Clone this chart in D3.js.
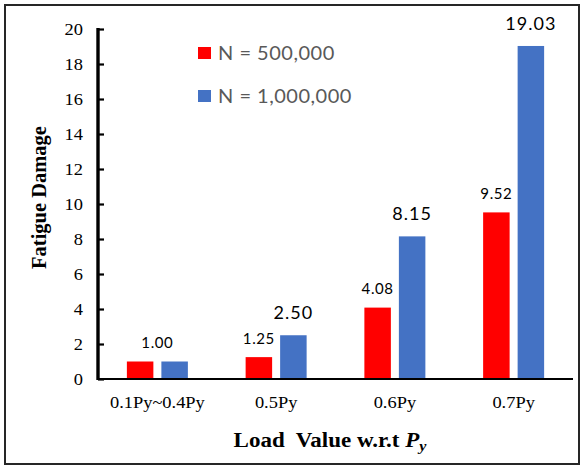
<!DOCTYPE html>
<html>
<head>
<meta charset="utf-8">
<script src="https://cdn.jsdelivr.net/npm/d3@7"></script>
<style>
  html, body { margin: 0; padding: 0; background: #fff; }
  svg { display: block; }
</style>
</head>
<body>
<svg id="chart" width="580" height="466"></svg>
<script>
// Fatigue damage per load level, for two cycle counts
const categories = ["0.1Py~0.4Py", "0.5Py", "0.6Py", "0.7Py"];
const seriesNames = ["N = 500,000", "N = 1,000,000"];
const damage500k = [1.00, 1.25, 4.08, 9.52];
const damage1M = [1.00, 2.50, 8.15, 19.03];
const yTicks = [0, 2, 4, 6, 8, 10, 12, 14, 16, 18, 20];

const colors = ["#FF0000", "#4472C4"];
const series = [damage500k, damage1M];

const svg = d3.select("#chart");
const plot = { left: 98, right: 573, top: 29, bottom: 379 };

// outer frame
svg.append("rect")
  .attr("x", 5).attr("y", 5)
  .attr("width", 574).attr("height", 459)
  .attr("fill", "none").attr("stroke", "#262626").attr("stroke-width", 2);

const x = d3.scaleBand().domain(categories).range([plot.left, plot.right]).padding(0);
const xs = d3.scaleBand().domain(seriesNames).range([0, x.bandwidth()])
  .paddingInner(0.232).paddingOuter(0.837);
const y = d3.scaleLinear().domain([0, 20]).range([plot.bottom, plot.top]);

const serif = "'Liberation Serif', 'Times New Roman', serif";
const sans = "Lato, 'Open Sans', sans-serif";

// bars
const rows = categories.map((c, i) => ({ cat: c, vals: series.map(s => s[i]) }));
const groups = svg.append("g").selectAll("g").data(rows).join("g")
  .attr("transform", d => `translate(${x(d.cat)},0)`);
groups.selectAll("rect")
  .data(d => d.vals.map((v, k) => ({ v, k })))
  .join("rect")
  .attr("x", d => xs(seriesNames[d.k]))
  .attr("width", xs.bandwidth())
  .attr("y", d => y(d.v))
  .attr("height", d => y(0) - y(d.v))
  .attr("fill", d => colors[d.k]);

// value labels: one centred label when both values agree
const fmt = d3.format(".2f");
const labelSize = [15, 18];
const labelGap = [13.5, 16];
groups.each(function (d) {
  const g = d3.select(this);
  if (d.vals[0] === d.vals[1]) {
    g.append("text")
      .attr("x", x.bandwidth() / 2)
      .attr("y", y(d.vals[0]) - labelGap[0])
      .attr("text-anchor", "middle")
      .attr("font-family", sans).attr("font-size", labelSize[0])
      .attr("letter-spacing", 0.6)
      .text(fmt(d.vals[0]));
  } else {
    d.vals.forEach((v, k) => {
      g.append("text")
        .attr("x", xs(seriesNames[k]) + xs.bandwidth() / 2)
        .attr("y", y(v) - labelGap[k])
        .attr("text-anchor", "middle")
        .attr("font-family", sans).attr("font-size", labelSize[k])
        .attr("letter-spacing", k ? 1 : 0.6)
        .text(fmt(v));
    });
  }
});

// y axis: thick spine, ticks pointing into the plot
const yAxis = svg.append("g").attr("transform", `translate(${plot.left},0)`)
  .call(d3.axisRight(y).tickValues(yTicks).tickSize(6).tickFormat(""));
yAxis.select(".domain").remove();
yAxis.selectAll(".tick line").attr("stroke", "#000").attr("stroke-width", 2.2);
svg.append("line")
  .attr("x1", plot.left).attr("x2", plot.left)
  .attr("y1", y(20) - 1).attr("y2", y(0) + 1)
  .attr("stroke", "#000").attr("stroke-width", 3.4);

svg.append("g").selectAll("text").data(yTicks).join("text")
  .attr("transform", d => `translate(83,${y(d)}) scale(1.15,1)`)
  .attr("text-anchor", "end").attr("dy", "0.35em")
  .attr("font-family", serif).attr("font-size", 16)
  .text(d => d);

// x axis
const xAxis = svg.append("g").attr("transform", `translate(0,${plot.bottom})`)
  .call(d3.axisBottom(x).tickSize(0).tickFormat(""));
xAxis.select(".domain").attr("stroke", "#000").attr("stroke-width", 2)
  .attr("d", `M${plot.left},0H${plot.right}`);

svg.append("g").selectAll("text").data(categories).join("text")
  .attr("transform", d => `translate(${x(d) + x.bandwidth() / 2},408) scale(1.15,1)`)
  .attr("text-anchor", "middle")
  .attr("font-family", serif).attr("font-size", 16)
  .text(d => d);

// axis titles
const xt = svg.append("text")
  .attr("transform", `translate(330,447) scale(1.15,1)`)
  .attr("text-anchor", "middle")
  .attr("font-family", serif).attr("font-size", 20).attr("font-weight", "bold");
xt.append("tspan").text("Load  Value w.r.t ").attr("xml:space", "preserve");
xt.append("tspan").text("P").attr("font-style", "italic");
xt.append("tspan").text("y").attr("font-style", "italic")
  .attr("font-size", 14).attr("dy", 4);

svg.append("text")
  .attr("transform", `translate(46,197.5) rotate(-90)`)
  .attr("text-anchor", "middle")
  .attr("font-family", serif).attr("font-size", 20.5).attr("font-weight", "bold")
  .text("Fatigue Damage");

// legend
const legend = svg.append("g").selectAll("g").data(seriesNames).join("g")
  .attr("transform", (d, i) => `translate(198,${47 + i * 43})`);
legend.append("rect").attr("width", 13).attr("height", 12)
  .attr("fill", (d, i) => colors[i]);
legend.append("text")
  .attr("x", 20).attr("y", 6).attr("dy", "0.36em")
  .attr("font-family", sans).attr("font-size", 20).attr("fill", "#595959")
  .attr("letter-spacing", 0.5)
  .text(d => d);
</script>
</body>
</html>
